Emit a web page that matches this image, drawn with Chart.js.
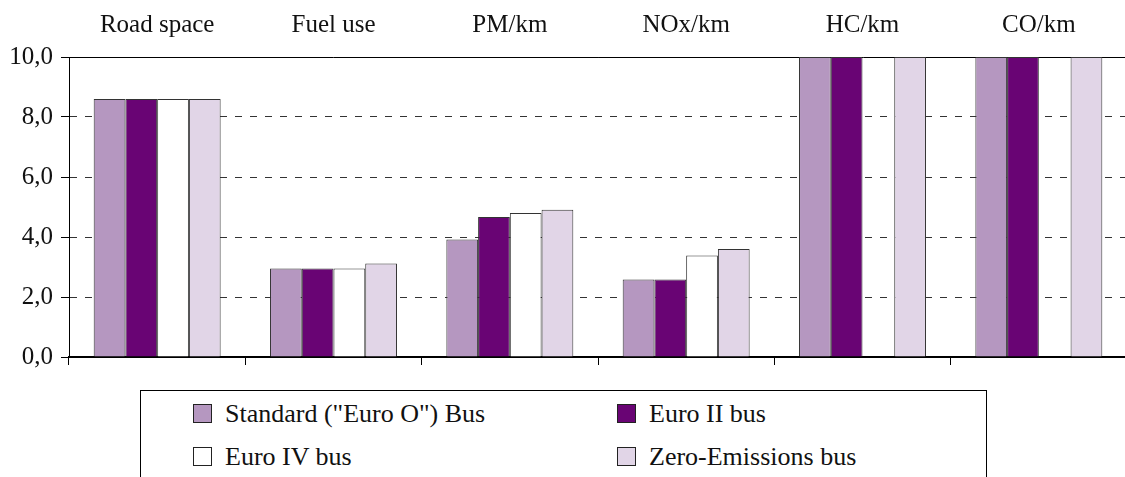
<!DOCTYPE html>
<html><head><meta charset="utf-8">
<script src="https://cdn.jsdelivr.net/npm/chart.js@4"></script>
<style>
html,body{margin:0;padding:0;background:#fff;overflow:hidden;width:1125px;height:477px;}
#wrap{position:relative;width:1130px;height:477px;}
canvas{position:absolute;left:0;top:0;}
#legend{position:absolute;left:140px;top:390px;width:847px;height:130px;border:1px solid #000;box-sizing:border-box;font-family:"Liberation Serif","Times New Roman",serif;font-size:26px;color:#111;}
.item{position:absolute;display:flex;align-items:center;white-space:nowrap;}
.sw{width:17px;height:17px;border:1px solid #222;margin-right:13px;flex:none;}
</style></head>
<body><div id="wrap"><canvas id="c" width="1130" height="380"></canvas><div id="legend"></div></div>
<script>
const categories = ['Road space','Fuel use','PM/km','NOx/km','HC/km','CO/km'];
const seriesNames = ['Standard ("Euro O") Bus','Euro II bus','Euro IV bus','Zero-Emissions bus'];
const standardBus = [8.6, 2.95, 3.92, 2.58, 10, 10];
const euro2Bus = [8.6, 2.95, 4.67, 2.58, 10, 10];
const euro4Bus = [8.6, 2.95, 4.8, 3.38, 0, 0];
const zeroEmissionsBus = [8.6, 3.12, 4.91, 3.6, 10, 10];
const yTicks = [0, 2, 4, 6, 8, 10];

const seriesValues = [standardBus, euro2Bus, euro4Bus, zeroEmissionsBus];
const colors = ['#b597c0', '#690474', '#ffffff', '#e1d5e7'];
const FONT = '"Liberation Serif", "Times New Roman", serif';

const chart = new Chart(document.getElementById('c'), {
  type: 'bar',
  data: {
    labels: categories,
    datasets: seriesNames.map((n, i) => ({
      label: n,
      data: seriesValues[i],
      backgroundColor: colors[i],
      borderColor: '#333',
      borderWidth: 1,
      categoryPercentage: 0.72,
      barPercentage: 1.0
    }))
  },
  options: {
    responsive: false,
    animation: false,
    devicePixelRatio: 1,
    layout: { padding: { left: 0, right: 3, top: 0, bottom: 0 } },
    plugins: { legend: { display: false }, tooltip: { enabled: false } },
    scales: {
      x: {
        type: 'category',
        position: 'bottom',
        grid: { offset: true, drawOnChartArea: false, drawTicks: true, tickLength: 8, color: '#000', lineWidth: 1 },
        border: { display: true, color: '#000', width: 2 },
        ticks: { display: false },
        afterFit: s => { s.height = 18; }
      },
      x2: {
        type: 'category',
        position: 'top',
        labels: categories,
        grid: { display: false, drawTicks: false },
        border: { display: true, color: '#000', width: 1 },
        ticks: { color: '#111', font: { family: FONT, size: 25 }, padding: 17, maxRotation: 0 },
        afterFit: s => { s.height = 57; }
      },
      y: {
        min: 0, max: 10,
        afterBuildTicks: s => { s.ticks = yTicks.map(v => ({ value: v })); },
        grid: { color: '#333', lineWidth: 1, tickLength: 8, tickColor: '#000', tickBorderDash: [] },
        border: { display: true, color: '#000', width: 1, dash: [7, 8] },
        ticks: { color: '#111', font: { family: FONT, size: 25 }, padding: 8,
                 callback: v => Number(v).toFixed(1).replace('.', ',') },
        afterFit: s => { s.width = 69; }
      }
    }
  }
});

const legend = document.getElementById('legend');
const pos = [[52, 13], [476, 13], [52, 56], [476, 56]];
seriesNames.forEach((n, i) => {
  const it = document.createElement('div');
  it.className = 'item';
  it.style.left = pos[i][0] + 'px';
  it.style.top = (pos[i][1] - 6) + 'px';
  it.style.height = '31px';
  const sw = document.createElement('div');
  sw.className = 'sw';
  sw.style.background = colors[i];
  const tx = document.createElement('span');
  tx.textContent = n;
  it.appendChild(sw); it.appendChild(tx);
  legend.appendChild(it);
});
</script>
</body></html>
